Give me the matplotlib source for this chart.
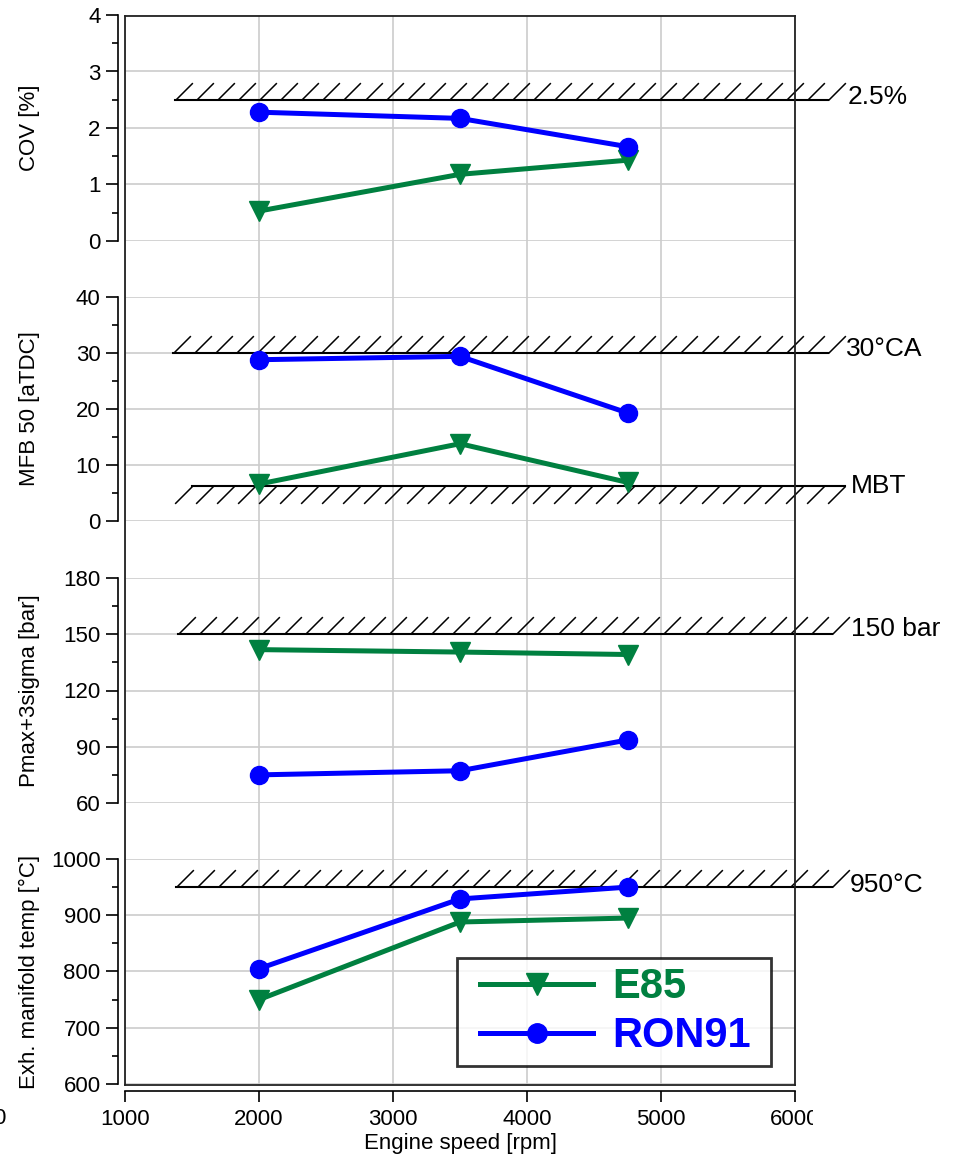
import numpy as np
import matplotlib
matplotlib.use('Agg')
import matplotlib.pyplot as plt
from matplotlib.path import Path
from matplotlib.transforms import Bbox, TransformedBbox
from matplotlib.legend_handler import HandlerLine2D

plt.rcParams['font.family'] = ['Liberation Sans', 'DejaVu Sans']

# ---------------- data ----------------
speed = [2000, 3500, 4750]

cov_e85 = [0.53, 1.18, 1.43]
cov_ron91 = [2.28, 2.17, 1.67]

mfb_e85 = [6.6, 13.8, 6.9]
mfb_ron91 = [28.8, 29.4, 19.3]

pmax_e85 = [141.8, 140.5, 139.2]
pmax_ron91 = [75.0, 77.2, 93.6]

texh_e85 = [750, 888, 895]
texh_ron91 = [805, 929, 950]

series_names = ['E85', 'RON91']
panel_ylabels = ['COV [%]', 'MFB 50 [aTDC]', 'Pmax+3sigma [bar]', 'Exh. manifold temp [°C]']

# limit lines: (panel index, value, label, hatch side)
limit_panel = [0, 1, 1, 2, 3]
limit_value = [2.5, 30, 6.3, 150, 950]
limit_label = ['2.5%', '30°CA', 'MBT', '150 bar', '950°C']
limit_side = ['up', 'up', 'down', 'up', 'up']

x_ticks = [1000, 2000, 3000, 4000, 5000, 6000]

# ---------------- styling ----------------
W_PX, H_PX = 956, 1160
C_E85 = '#008040'
C_RON = '#0000ff'

fig = plt.figure(figsize=(W_PX / 100, H_PX / 100), dpi=100)

def fx(px):
    return px / W_PX

def fy(py):
    return 1 - py / H_PX

L_PX, R_PX = 125, 795
TOP_PX, BOT_PX = 15.5, 1085
L, Wd = fx(L_PX), fx(R_PX) - fx(L_PX)

# background axes: vertical grid + x-axis
bg = fig.add_axes([L, fy(BOT_PX), Wd, fy(TOP_PX) - fy(BOT_PX)], zorder=0)
bg.set_xlim(1000, 6000)
bg.set_ylim(0, 1)
bg.set_xticks(x_ticks)
bg.set_yticks([])
for s in ['top', 'left', 'right']:
    bg.spines[s].set_visible(False)
bg.spines['bottom'].set_position(('outward', 4.5))
bg.spines['bottom'].set_linewidth(1.2)
bg.tick_params(axis='x', direction='out', length=8, width=1.2, labelsize=16, pad=5)
bg.grid(axis='x', color='#cccccc', lw=1.2)
bg.set_xlabel('Engine speed [rpm]', fontsize=16, labelpad=2)
labels = bg.get_xticklabels()
clipbox = TransformedBbox(Bbox([[0, 0], [fx(813), 1]]), fig.transFigure)
for t in labels:
    t.set_clip_box(clipbox)
    t.set_clip_on(True)
fig.text(fx(-1), fy(1118), '0', ha='center', va='center', fontsize=16)

# panels
panels_px = [(15, 241), (297, 521), (578, 803), (859, 1084)]
ylims = [(0, 4), (0, 40), (60, 180), (600, 1000)]
majors = [1, 10, 30, 100]
data_e85 = [cov_e85, mfb_e85, pmax_e85, texh_e85]
data_ron = [cov_ron91, mfb_ron91, pmax_ron91, texh_ron91]

axes = []
for i, (top, bot) in enumerate(panels_px):
    ax = fig.add_axes([L, fy(bot), Wd, fy(top) - fy(bot)], zorder=1)
    ax.set_facecolor('none')
    lo, hi = ylims[i]
    ax.set_xlim(1000, 6000)
    ax.set_ylim(lo, hi)
    for s in ['top', 'right', 'bottom']:
        ax.spines[s].set_visible(False)
    ax.spines['left'].set_position(('outward', 5))
    ax.spines['left'].set_linewidth(1.2)
    ax.set_yticks(np.arange(lo, hi + 1e-9, majors[i]))
    ax.set_yticks(np.arange(lo, hi + 1e-9, majors[i] / 2), minor=True)
    ax.tick_params(axis='y', which='major', direction='out', length=8.6, width=1.2, labelsize=16, pad=4)
    ax.tick_params(axis='y', which='minor', direction='out', length=4.3, width=1.2)
    ax.tick_params(axis='x', bottom=False, labelbottom=False)
    ax.grid(axis='y', which='major', color='#cccccc', lw=1.2)
    ax.set_axisbelow(True)
    ax.set_ylabel(panel_ylabels[i], fontsize=16, va='center')
    ax.yaxis.set_label_coords(fx(29 - L_PX) / Wd, 0.5)
    ax.plot(speed, data_e85[i], color=C_E85, lw=3.6, marker='v', ms=15,
            mec=C_E85, mfc=C_E85, zorder=5, clip_on=False)
    ax.plot(speed, data_ron[i], color=C_RON, lw=3.6, marker='o', ms=13,
            mec=C_RON, mfc=C_RON, zorder=6, clip_on=False)
    axes.append(ax)

# frame axes on top
fr = fig.add_axes([L, fy(BOT_PX), Wd, fy(TOP_PX) - fy(BOT_PX)], zorder=3)
fr.set_facecolor('none')
fr.set_xticks([])
fr.set_yticks([])
for s in fr.spines.values():
    s.set_linewidth(1.3)
    s.set_color('#222222')

# limit lines with hatching
slash_up = Path([(0, 0), (1, 1)], [Path.MOVETO, Path.LINETO])
slash_dn = Path([(0, 0), (-1, -1)], [Path.MOVETO, Path.LINETO])
limit_x0 = [1373, 1356, 1498, 1396, 1381]
limit_x1 = [6246, 6246, 6373, 6276, 6276]
limit_xt = [6396, 6381, 6418, 6418, 6410]
limit_dy = [2, 3, 0, 3.5, 1.2]
for k in range(len(limit_value)):
    ax = axes[limit_panel[k]]
    y = limit_value[k]
    x0, x1 = limit_x0[k], limit_x1[k]
    ax.plot([x0, x1], [y, y], color='k', lw=1.5, clip_on=False, zorder=4)
    n = int(round((x1 - x0) / 158)) + 1
    xs = np.linspace(x0, x1, n)
    ax.plot(xs, np.full(n, y), ls='none',
            marker=slash_up if limit_side[k] == 'up' else slash_dn,
            ms=25, mew=1.1, mec='k', mfc='none', clip_on=False, zorder=4)
    ax.annotate(limit_label[k], (limit_xt[k], y), xytext=(0, limit_dy[k]),
                textcoords='offset points', ha='left', va='center',
                fontsize=19, annotation_clip=False)

# legend
h1 = plt.Line2D([], [], color=C_E85, lw=3.6, marker='v', ms=16, mec=C_E85, mfc=C_E85)
h2 = plt.Line2D([], [], color=C_RON, lw=3.6, marker='o', ms=14, mec=C_RON, mfc=C_RON)
leg = fig.legend([h1, h2], series_names, loc='upper left',
                 bbox_to_anchor=(fx(457), fy(1065), fx(771) - fx(457), fy(958) - fy(1065)),
                 mode='expand', borderaxespad=0,
                 prop={'size': 30, 'weight': 'bold'}, frameon=True, fancybox=False,
                 edgecolor='k', handlelength=3.05, handletextpad=0.46,
                 borderpad=0.22, labelspacing=0.22,
                 handler_map={h1: HandlerLine2D(xpad=0.34), h2: HandlerLine2D(xpad=0.34)})
leg.get_frame().set_linewidth(2)
leg.set_zorder(10)
for t, c in zip(leg.get_texts(), [C_E85, C_RON]):
    t.set_color(c)

fig.savefig('out.png', dpi=100)
